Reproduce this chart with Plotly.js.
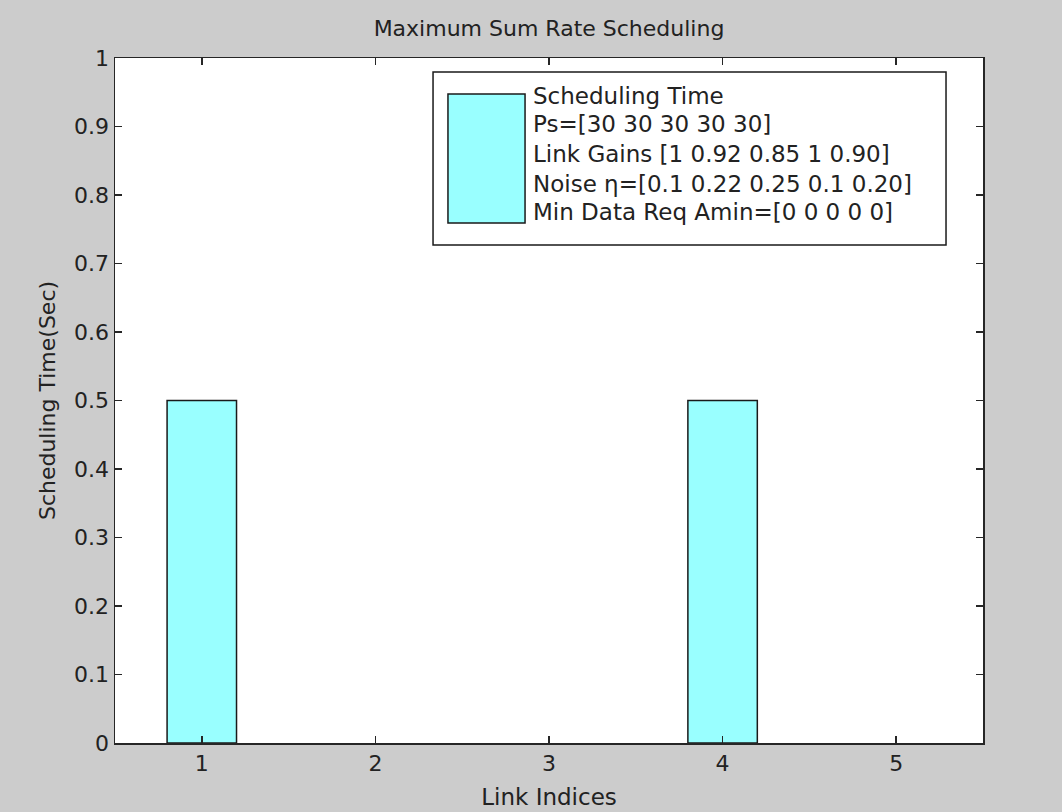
<!DOCTYPE html>
<html>
<head>
<meta charset="utf-8">
<script src="https://cdn.plot.ly/plotly-3.0.1.min.js"></script>
<style>html,body{margin:0;padding:0;background:#cccccc;}#chart{width:1062px;height:812px;}</style>
</head>
<body>
<div id="chart"></div>
<script>
const linkIndices = [1, 2, 3, 4, 5];
const schedulingTime = [0.5, 0, 0, 0.5, 0];
const yTicks = [0, 0.1, 0.2, 0.3, 0.4, 0.5, 0.6, 0.7, 0.8, 0.9, 1];
const legendLines = [
  "Scheduling Time",
  "Ps=[30 30 30 30 30]",
  "Link Gains [1 0.92 0.85 1 0.90]",
  "Noise \u03b7=[0.1 0.22 0.25 0.1 0.20]",
  "Min Data Req Amin=[0 0 0 0 0]"
];

const FONT = "DejaVu Sans, Arial, sans-serif";
const TXT = "#222222";
const barColor = "#99ffff";

const trace = {
  type: "bar",
  x: linkIndices,
  y: schedulingTime,
  width: 0.4,
  marker: {
    color: barColor,
    line: { color: "#1a1a1a", width: schedulingTime.map(v => v > 0 ? 1.5 : 0) }
  },
  showlegend: false,
  hoverinfo: "x+y"
};

// legend geometry (paper coords)
const legendLineY = [0.9445, 0.9036, 0.8599, 0.8161, 0.7752];
const annotations = legendLines.map((t, i) => ({
  xref: "paper", yref: "paper",
  x: 0.4795, y: legendLineY[i],
  xanchor: "left", yanchor: "middle",
  text: t, showarrow: false,
  font: { family: FONT, size: 23, color: TXT }
}));

const layout = {
  width: 1062, height: 812,
  paper_bgcolor: "#cccccc",
  plot_bgcolor: "#ffffff",
  margin: { l: 115, r: 79, t: 58, b: 69 },
  title: {
    text: "Maximum Sum Rate Scheduling",
    font: { family: FONT, size: 22, color: TXT },
    x: 0.5, xref: "paper", xanchor: "center",
    y: 1 - 28 / 812, yanchor: "middle"
  },
  xaxis: {
    range: [0.5, 5.5],
    tickvals: linkIndices,
    ticktext: linkIndices.map(String),
    ticks: "inside", ticklen: 7, tickwidth: 1.5, tickcolor: "#262626",
    showline: true, linecolor: "#262626", linewidth: 1.5, mirror: "ticks",
    showgrid: false, zeroline: false,
    tickfont: { family: FONT, size: 22, color: TXT },
    title: { text: "Link Indices", font: { family: FONT, size: 23, color: TXT }, standoff: 14 }
  },
  yaxis: {
    range: [0, 1],
    tickvals: yTicks,
    ticktext: yTicks.map(String),
    ticks: "inside", ticklen: 7, tickwidth: 1.5, tickcolor: "#262626",
    showline: true, linecolor: "#262626", linewidth: 1.5, mirror: "ticks",
    showgrid: false, zeroline: false,
    tickfont: { family: FONT, size: 22, color: TXT },
    title: { text: "Scheduling Time(Sec)", font: { family: FONT, size: 22, color: TXT }, standoff: 12 }
  },
  shapes: [
    { type: "rect", xref: "paper", yref: "paper", x0: 0.3664, x1: 0.9574, y0: 0.727, y1: 0.9796,
      fillcolor: "#ffffff", line: { color: "#1a1a1a", width: 1.5 }, layer: "above" },
    { type: "rect", xref: "paper", yref: "paper", x0: 0.3836, x1: 0.4724, y0: 0.7591, y1: 0.9474,
      fillcolor: barColor, line: { color: "#1a1a1a", width: 1.5 }, layer: "above" }
  ],
  annotations: annotations,
  bargap: 0
};

Plotly.newPlot("chart", [trace], layout, { displayModeBar: false, staticPlot: true });
</script>
</body>
</html>
